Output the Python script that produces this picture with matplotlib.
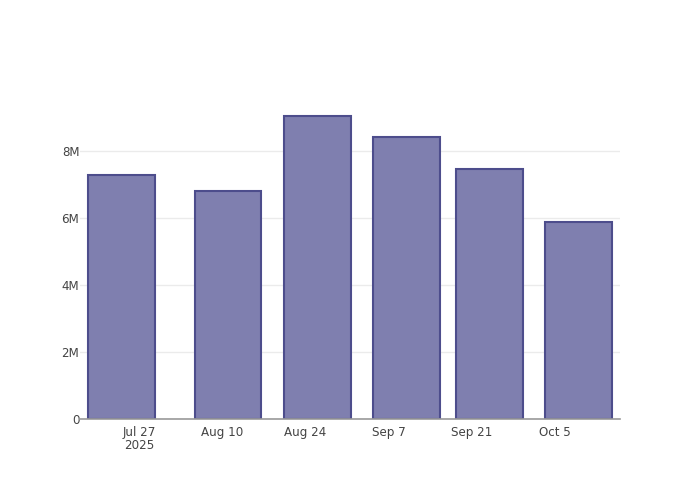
import datetime as dt
import matplotlib
matplotlib.use("Agg")
import matplotlib.pyplot as plt
from matplotlib.ticker import FuncFormatter

# datos
fechas = ["2025-07-24", "2025-08-11", "2025-08-26", "2025-09-10", "2025-09-24", "2025-10-09"]
valores = [7.29e6, 6.82e6, 9.07e6, 8.42e6, 7.48e6, 5.88e6]
ticks_x = ["2025-07-27", "2025-08-10", "2025-08-24", "2025-09-07", "2025-09-21", "2025-10-05"]
etiquetas_x = ["Jul 27\n2025", "Aug 10", "Aug 24", "Sep 7", "Sep 21", "Oct 5"]
ticks_y = [0, 2e6, 4e6, 6e6, 8e6]

x = [dt.datetime.strptime(f, "%Y-%m-%d") for f in fechas]
xt = [dt.datetime.strptime(f, "%Y-%m-%d") for f in ticks_x]
ancho = 0.8 * 14  # dias

fig = plt.figure(figsize=(7, 5), dpi=100)
ax = fig.add_axes([80 / 700, 81 / 500, 540 / 700, 319 / 500])

ax.bar(x, valores, width=ancho, color="#7f7faf", edgecolor="#4d4d8c", linewidth=1.5, zorder=3)

ax.set_xlim(x[0] - dt.timedelta(days=ancho / 2 + 1.35), x[-1] + dt.timedelta(days=ancho / 2 + 1.35))
ax.set_ylim(0, 9.54e6)

ax.set_xticks(xt)
ax.set_xticklabels(etiquetas_x, ha="center", va="top", linespacing=1.05)
ax.set_yticks(ticks_y)
ax.yaxis.set_major_formatter(FuncFormatter(lambda v, p: "0" if v == 0 else f"{v/1e6:g}M"))

ax.tick_params(axis="both", length=0, labelsize=8.6, colors="#444444")
ax.tick_params(axis="x", pad=5)
ax.tick_params(axis="y", pad=0.5)

ax.grid(axis="y", color="#ebebeb", linewidth=1, zorder=0)
for s in ["top", "right", "left"]:
    ax.spines[s].set_visible(False)
ax.spines["bottom"].set_color("#999999")
ax.spines["bottom"].set_linewidth(1.2)
ax.spines["bottom"].set_zorder(4)

plt.savefig("out.png", dpi=100)
plt.close()
